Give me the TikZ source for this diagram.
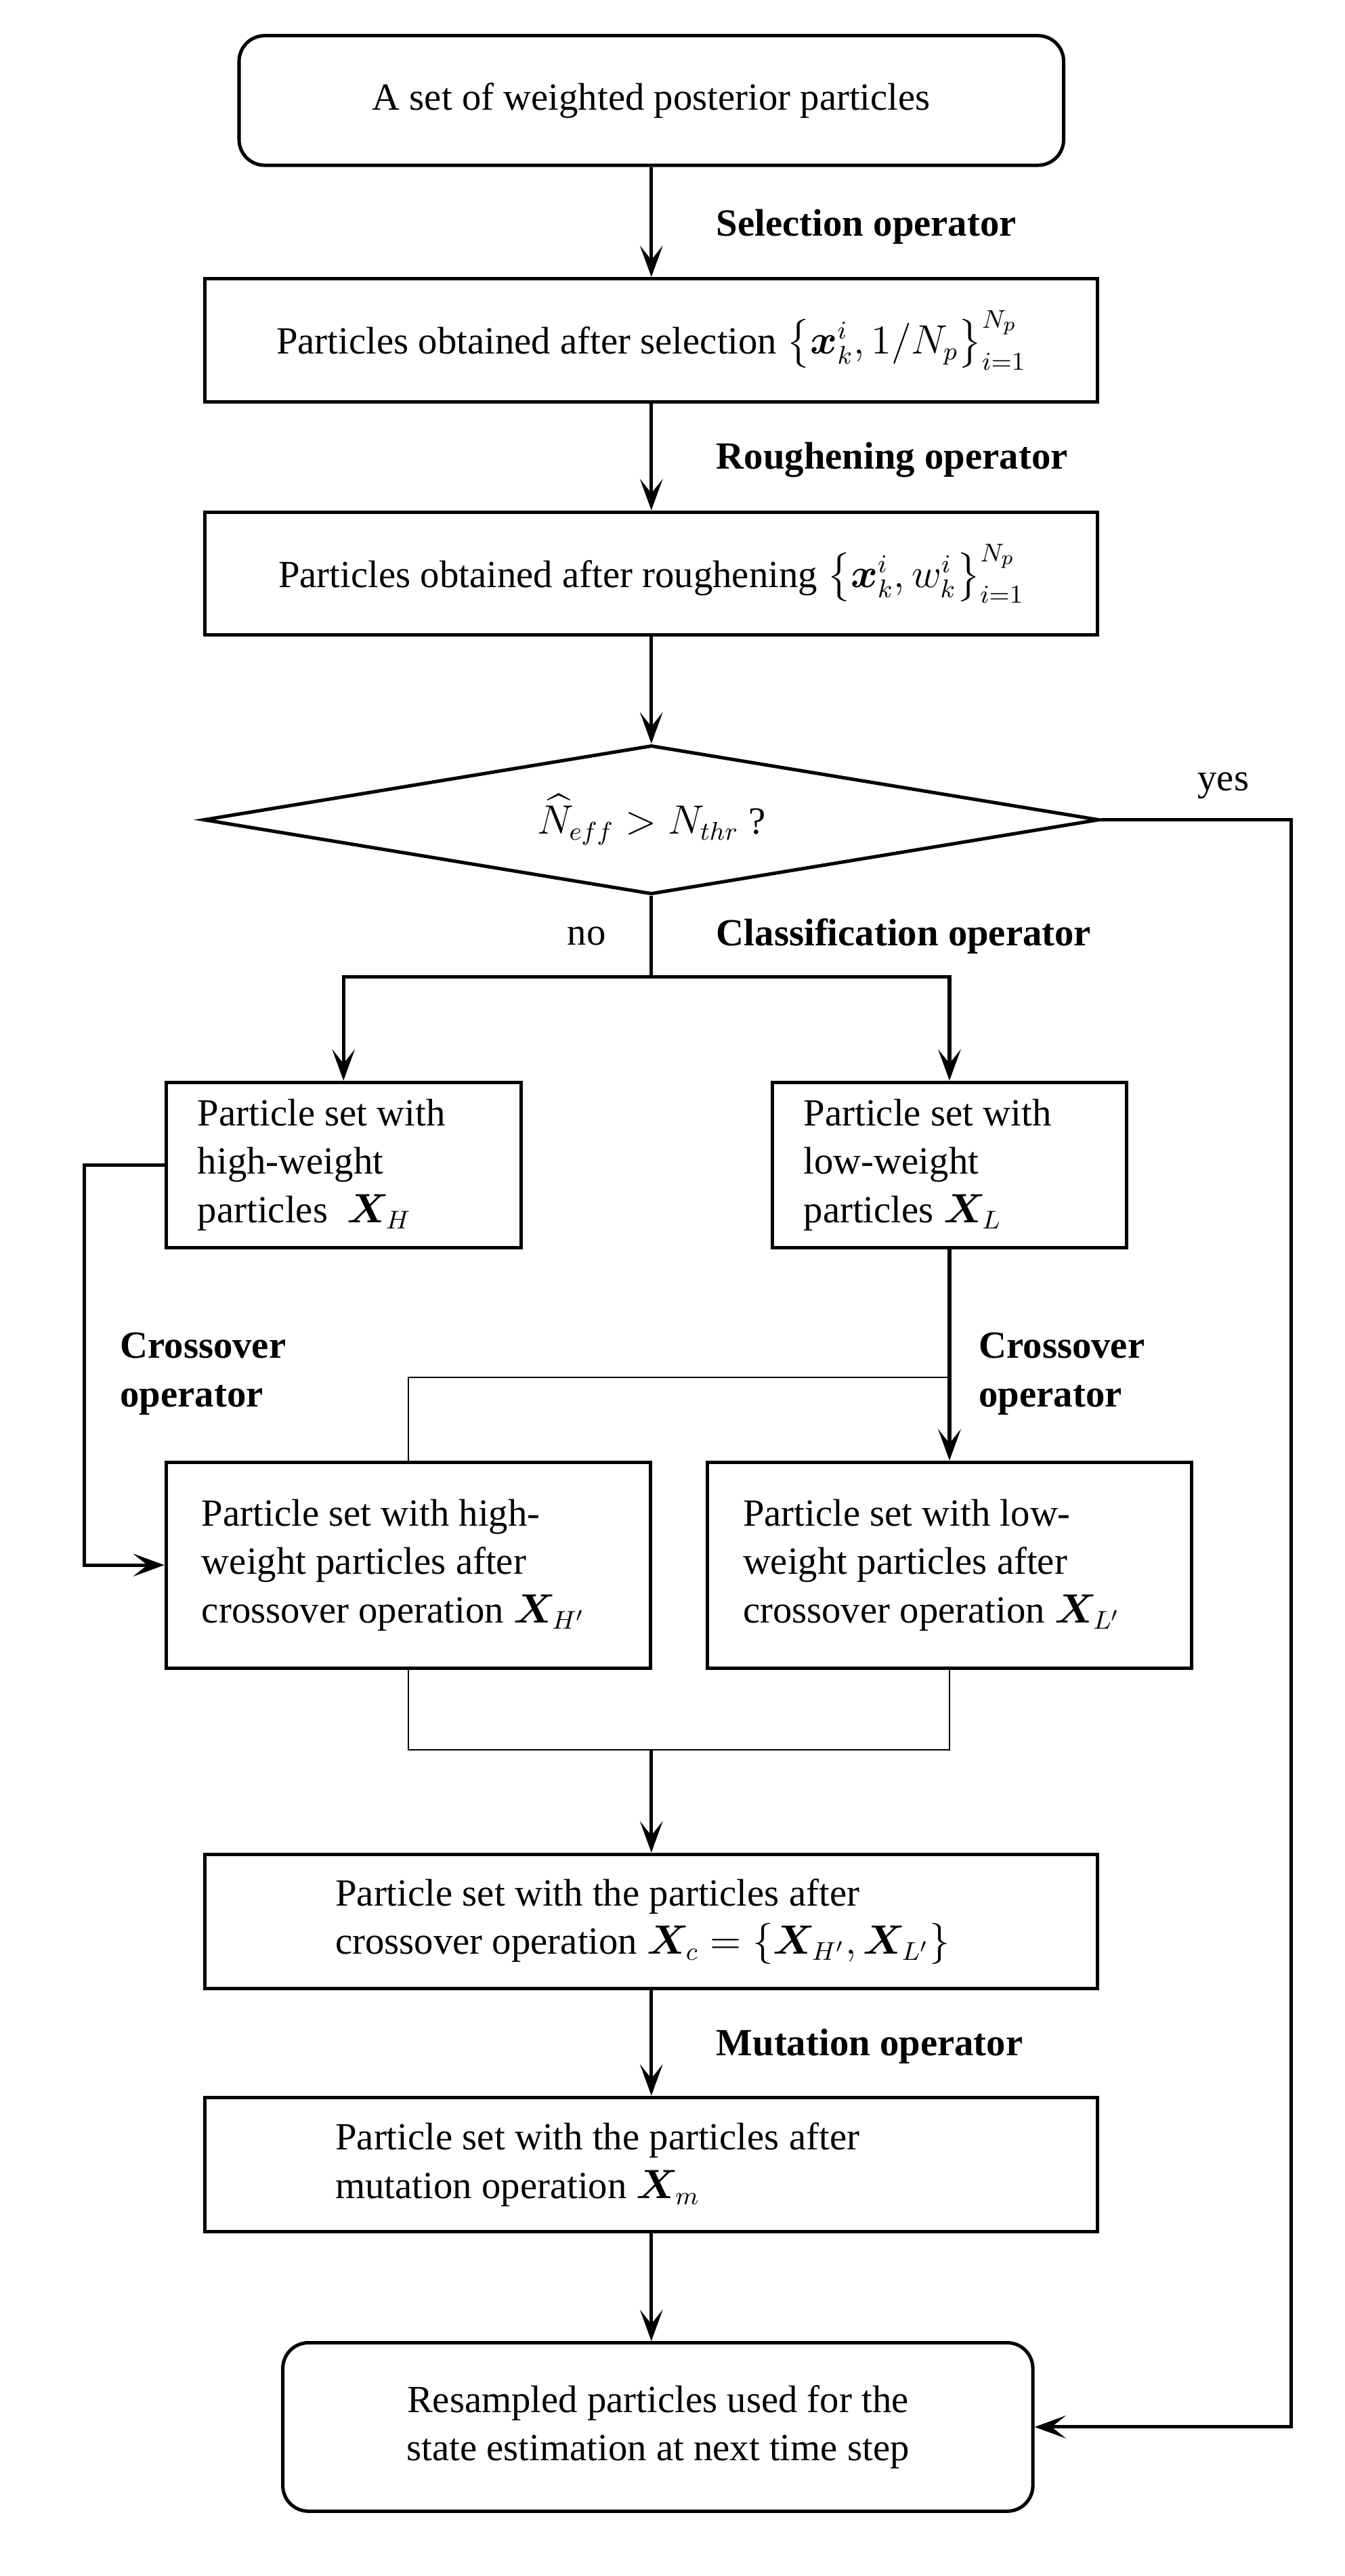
\documentclass[tikz,border=0pt]{standalone}
\usepackage{amsmath,bm}
\usepackage{fontspec}
\setmainfont{Liberation Serif}
\usetikzlibrary{arrows.meta,shapes.geometric}
\begin{document}
\begin{tikzpicture}[x=0.02cm, y=-0.02cm,
  every node/.style={font=\fontsize{13.5}{17}\selectfont},
  box/.style={draw, line width=1.2pt, inner sep=0pt, align=center},
  rbox/.style={box, rounded corners=9pt},
  op/.style={anchor=west, align=left, font=\fontsize{13.5}{17}\selectfont\bfseries},
  arr/.style={line width=1.2pt, -{Stealth[length=11pt, width=8pt, inset=5pt]}},
  lin/.style={line width=1.2pt},
  thinl/.style={line width=0.5pt}]
\useasboundingbox (0,0) rectangle (830,1590);
% boxes
\node[rbox, minimum width=10.18cm, minimum height=1.6cm] (top) at (402,62) {A set of weighted posterior particles};
\node[box, minimum width=11.02cm, minimum height=1.52cm] (sel) at (402,210) {Particles obtained after selection $\bigl\{\bm{x}_k^i, 1/N_p\bigr\}_{i=1}^{N_p}$};
\node[box, minimum width=11.02cm, minimum height=1.52cm] (rough) at (402,354) {Particles obtained after roughening $\bigl\{\bm{x}_k^i, w_k^i\bigr\}_{i=1}^{N_p}$};
\node[draw, line width=1.2pt, diamond, aspect=6, inner sep=0pt, minimum width=11.06cm, minimum height=1.84cm] (neff) at (402,506) {$\widehat{N}_{eff} > N_{thr}$ ?};
\node[box, minimum width=4.38cm, minimum height=2.04cm] (high) at (212,719) {\begin{minipage}{3.6cm}Particle set with\\high-weight\\particles~~$\bm{X}_H$\end{minipage}};
\node[box, minimum width=4.38cm, minimum height=2.04cm] (low) at (586,719) {\begin{minipage}{3.6cm}Particle set with\\low-weight\\particles $\bm{X}_L$\end{minipage}};
\node[box, minimum width=5.98cm, minimum height=2.54cm] (highx) at (252,966) {\begin{minipage}{5.1cm}Particle set with high-\\weight particles after\\crossover operation $\bm{X}_{H'}$\end{minipage}};
\node[box, minimum width=5.98cm, minimum height=2.54cm] (lowx) at (586,966) {\begin{minipage}{5.1cm}Particle set with low-\\weight particles after\\crossover operation $\bm{X}_{L'}$\end{minipage}};
\node[box, minimum width=11.02cm, minimum height=1.66cm] (comb) at (402,1186) {\begin{minipage}{7.8cm}\raggedright Particle set with the particles after\\crossover operation $\bm{X}_c=\{\bm{X}_{H'},\bm{X}_{L'}\}$\end{minipage}};
\node[box, minimum width=11.02cm, minimum height=1.66cm] (mut) at (402,1336) {\begin{minipage}{7.8cm}\raggedright Particle set with the particles after\\mutation operation $\bm{X}_m$\end{minipage}};
\node[rbox, minimum width=9.26cm, minimum height=2.08cm] (res) at (406,1498) {Resampled particles used for the\\state estimation at next time step};
% operator labels
\foreach \ypos/\name/\label in {140/selop/Selection operator, 284/roughop/Roughening operator, 578/classop/Classification operator, 1263/mutop/Mutation operator}
  \node[op] (\name) at (436,\ypos) {\label};
\node[op] (crossl) at (68,848) {Crossover\\operator};
\node[op] (crossr) at (598,848) {Crossover\\operator};
\node (yes) at (755,485) {yes};
\node (no) at (362,578) {no};
% connectors
\coordinate (split) at (402,603);
\coordinate (yr) at (797,506);
\coordinate (hl) at (52,719);
\coordinate (fork) at (586,850);
\coordinate (merge) at (402,1080);
\draw[arr] (top) -- (sel);
\draw[arr] (sel) -- (rough);
\draw[arr] (rough) -- (neff);
\draw[arr] (neff.east) -- (yr) |- (res.east);
\draw[lin] (neff.south) -- (split);
\draw[arr] (split) -| (high.north);
\draw[arr] (split) -| (low.north);
\draw[arr] (high.west) -- (hl) |- (highx.west);
\draw[arr] (low.south) -- (lowx.north);
\draw[thinl] (fork) -| (highx.north);
\draw[thinl] (highx.south) |- (merge) -| (lowx.south);
\draw[arr] (merge) -- (comb.north);
\draw[arr] (comb) -- (mut);
\draw[arr] (mut.south) -- (mut.south |- res.north);
\end{tikzpicture}
\end{document}
